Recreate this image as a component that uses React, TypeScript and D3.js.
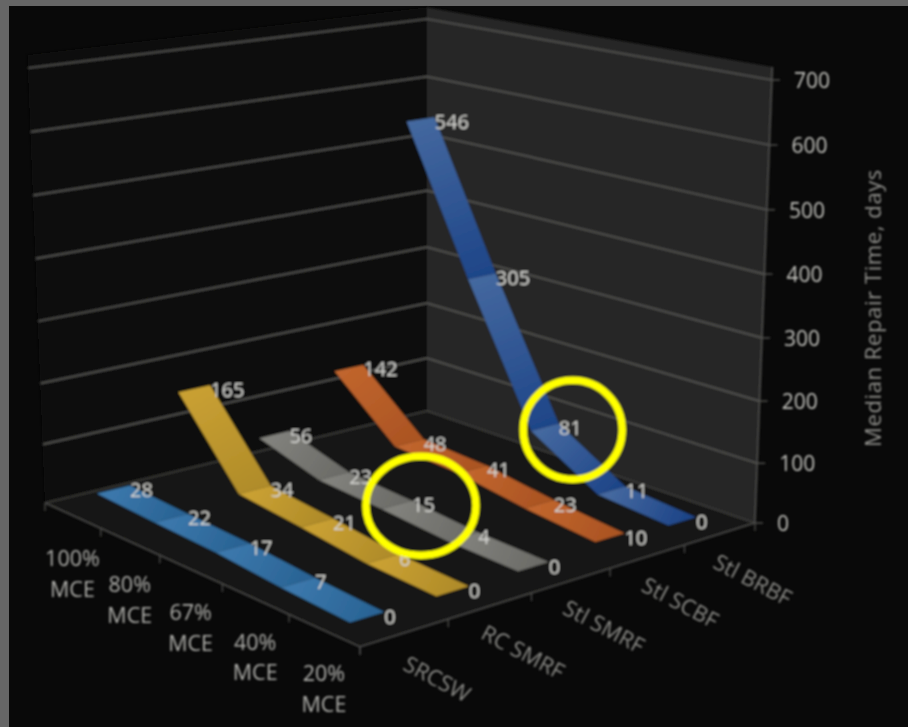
import React from "react";
import * as d3 from "d3";

const categories = ["100%", "80%", "67%", "40%", "20%"];
const seriesNames = ["SRCSW", "RC SMRF", "Stl SMRF", "Stl SCBF", "Stl BRBF"];
const srcsw = [28, 22, 17, 7, 0];
const rcSmrf = [165, 34, 21, 6, 0];
const stlSmrf = [56, 23, 15, 4, 0];
const stlScbf = [142, 48, 41, 23, 10];
const stlBrbf = [546, 305, 81, 11, 0];
const seriesValues = [srcsw, rcSmrf, stlSmrf, stlScbf, stlBrbf];
const seriesLight = ["#3b77ab", "#c9a032", "#81817c", "#c0652d", "#44689f"];
const seriesDark = ["#2a6495", "#b08c2a", "#6c6c68", "#ab5423", "#1e4588"];
const valueTicks = [0, 100, 200, 300, 400, 500, 600, 700];
const valueTitle = "Median Repair Time, days";
const highlighted = [
  { series: 2, cat: 2 },
  { series: 4, cat: 2 },
];
const highlightRx = [55, 49.5];
const highlightRy = [49.5, 49.5];
const highlightDx = [9, 14];
const highlightDy = [5, 6];

type P = [number, number];
// Map the unit square onto a quadrilateral: (0,0) (1,0) (1,1) (0,1)
function quadMap(q: P[]) {
  const [p0, p1, p2, p3] = q;
  const dx1 = p1[0] - p2[0], dx2 = p3[0] - p2[0], sx = p0[0] - p1[0] + p2[0] - p3[0];
  const dy1 = p1[1] - p2[1], dy2 = p3[1] - p2[1], sy = p0[1] - p1[1] + p2[1] - p3[1];
  const den = dx1 * dy2 - dx2 * dy1;
  const g = (sx * dy2 - dx2 * sy) / den;
  const h = (dx1 * sy - sx * dy1) / den;
  const a = p1[0] - p0[0] + g * p1[0], b = p3[0] - p0[0] + h * p3[0], c = p0[0];
  const d = p1[1] - p0[1] + g * p1[1], e = p3[1] - p0[1] + h * p3[1], f = p0[1];
  return (s: number, u: number): P => {
    const w = g * s + h * u + 1;
    return [(a * s + b * u + c) / w, (d * s + e * u + f) / w];
  };
}

// s: series axis (0 = front-left series, 1 = back-right), u: category axis (0 = 100%, 1 = 20%)
const floor = quadMap([[45, 503], [427, 411], [755, 523], [360, 647]]);
const ceil = quadMap([[28, 68], [427, 19], [772, 80], [358, 148]]);

const sBand = d3.scaleBand<string>().domain(seriesNames).range([0, 1]);
const uBand = d3.scaleBand<string>().domain(categories).range([0, 1]);
const vScale = d3.scalePow().exponent(1.03).domain([0, 700]).range([0, 1]);
const wallTop = 720;
const ribbonBack = 0.036;
const ribbonFront = 0.042;

function project(s: number, u: number, v: number): P {
  const a = floor(s, u), b = ceil(s, u), t = vScale(v);
  return [a[0] + (b[0] - a[0]) * t, a[1] + (b[1] - a[1]) * t];
}
const sCenter = (i: number) => sBand(seriesNames[i])! + sBand.bandwidth() / 2;
const uCenter = (i: number) => uBand(categories[i])! + uBand.bandwidth() / 2;
const poly = (pts: P[]) => d3.line()(pts)! + "Z";

const FONT = "'Open Sans', Lato, sans-serif";

export default function App() {
  const order = d3.range(seriesNames.length).reverse();
  return (
    <svg width={908} height={727} style={{ position: "absolute", left: 0, top: 0, display: "block" }} fontFamily={FONT}>
      <defs>
        <filter id="soft" x="-5%" y="-5%" width="110%" height="110%">
          <feGaussianBlur stdDeviation="0.85" />
        </filter>
        {order.map((si) =>
          seriesValues[si].slice(0, -1).map((v, ci) => {
            const a = project(sCenter(si), uCenter(ci), v);
            const b = project(sCenter(si), uCenter(ci + 1), seriesValues[si][ci + 1]);
            return (
              <linearGradient key={`${si}-${ci}`} id={`g${si}-${ci}`} gradientUnits="userSpaceOnUse" x1={a[0]} y1={a[1]} x2={b[0]} y2={b[1]}>
                <stop offset="0" stopColor={seriesLight[si]} />
                <stop offset="1" stopColor={seriesDark[si]} />
              </linearGradient>
            );
          })
        )}
      </defs>
      <rect width={908} height={727} fill="#666666" />
      <rect x={9} y={6} width={899} height={721} fill="#090909" />
      <g filter="url(#soft)">
        {/* walls and floor */}
        <path d={poly([project(0, 0, 0), project(1, 0, 0), project(1, 0, wallTop), project(0, 0, wallTop)])} fill="#111110" />
        <path d={poly([project(1, 0, 0), project(1, 1, 0), project(1, 1, wallTop), project(1, 0, wallTop)])} fill="#282827" />
        <path d={poly([project(0, 0, 0), project(1, 0, 0), project(1, 1, 0), project(0, 1, 0)])} fill="#151513" />
        {/* gridlines */}
        {valueTicks.map((v) => (
          <g key={v}>
            <path d={d3.line()([project(0, 0, v), project(1, 0, v), project(1, 1, v)])!} fill="none" stroke={v === 0 ? "#3c3c3a" : "#535351"} strokeWidth={1.7} />
            {(() => {
              const p = project(1, 1, v);
              return <line x1={p[0]} y1={p[1]} x2={p[0] + 8} y2={p[1]} stroke="#535351" strokeWidth={1.4} />;
            })()}
            <text x={project(1, 1, v)[0] + 22} y={project(1, 1, v)[1]} dominantBaseline="central" fontSize={21} fill="#c4c4bf">{v}</text>
          </g>
        ))}
        {/* axes */}
        <path d={d3.line()([project(1, 1, 0), project(1, 1, wallTop)])!} stroke="#535351" strokeWidth={1.4} fill="none" />
        <path d={d3.line()([project(0, 0, 0), project(0, 1, 0), project(1, 1, 0)])!} stroke="#4a4a48" strokeWidth={1.6} fill="none" />
        {d3.range(0, 1.0001, 0.2).map((t) => {
          const a = project(0, t, 0), b = project(t, 1, 0);
          return (
            <g key={t}>
              <line x1={a[0]} y1={a[1]} x2={a[0]} y2={a[1] + 8} stroke="#4a4a48" strokeWidth={1.4} />
              <line x1={b[0]} y1={b[1]} x2={b[0]} y2={b[1] + 8} stroke="#4a4a48" strokeWidth={1.4} />
            </g>
          );
        })}
        {/* ribbons, back series first */}
        {order.map((si) =>
          seriesValues[si].slice(0, -1).map((v, ci) => {
            const s0 = sCenter(si) - ribbonFront, s1 = sCenter(si) + ribbonBack;
            const v2 = seriesValues[si][ci + 1];
            const u0 = uCenter(ci), u1 = uCenter(ci + 1);
            return (
              <path key={`${si}-${ci}`} d={poly([project(s0, u0, v), project(s1, u0, v), project(s1, u1, v2), project(s0, u1, v2)])} fill={`url(#g${si}-${ci})`} />
            );
          })
        )}
        {/* data labels */}
        {order.map((si) =>
          seriesValues[si].map((v, ci) => {
            const p = project(sCenter(si) + ribbonBack, uCenter(ci), v);
            return (
              <text key={`${si}-${ci}`} x={p[0]} y={p[1] + 4} dominantBaseline="central" fontSize={20} fill="#d4d4d0">{v}</text>
            );
          })
        )}
        {/* category labels */}
        {categories.map((c, ci) => {
          const p = project(0, uCenter(ci), 0);
          return (
            <text key={c} textAnchor="middle" fontSize={21.5} fill="#b0b0ac">
              <tspan x={p[0]} y={p[1] + 50.5}>{c}</tspan>
              <tspan x={p[0]} y={p[1] + 81}>MCE</tspan>
            </text>
          );
        })}
        {/* series labels */}
        {seriesNames.map((n, si) => {
          const p = project(sCenter(si), 1, 0);
          return (
            <text key={n} transform={`translate(${p[0] + 33},${p[1] + 45}) rotate(28)`} textAnchor="middle" dominantBaseline="central" fontSize={22} fill="#8c8c88">{n}</text>
          );
        })}
        <text transform="translate(872,308) rotate(-90)" textAnchor="middle" dominantBaseline="central" fontSize={22} letterSpacing={0.6} fill="#92928e">{valueTitle}</text>
        {/* highlight circles, centred on the data labels they mark */}
        {highlighted.map((h, i) => {
          const p = project(sCenter(h.series) + ribbonBack, uCenter(h.cat), seriesValues[h.series][h.cat]);
          return <ellipse key={i} cx={p[0] + highlightDx[i]} cy={p[1] + highlightDy[i]} rx={highlightRx[i]} ry={highlightRy[i]} fill="none" stroke="#ffff00" strokeWidth={7.5} />;
        })}
      </g>
    </svg>
  );
}
